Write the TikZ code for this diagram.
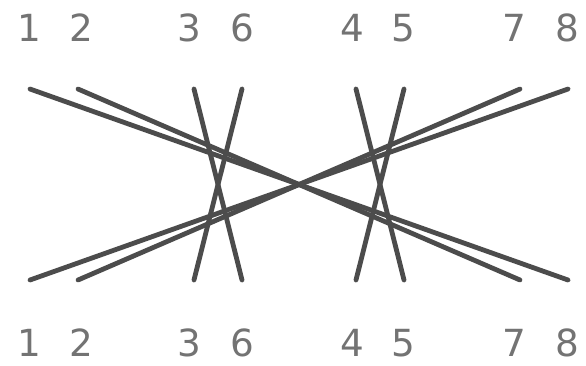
\documentclass[tikz,border=0pt]{standalone}
\usepackage{fontspec}
\setmainfont{DejaVu Sans}
\tikzset{wire/.style={line width=3.6pt,draw=black!70,line cap=round},
lab/.style={font=\fontsize{28}{30}\selectfont,text=black!55,inner sep=0pt,anchor=base}}
\begin{document}
\begin{tikzpicture}[x=1pt,y=-1pt,scale=0.75]
\useasboundingbox (0,0) rectangle (586,365);
\foreach \n/\x/\w/\l in {a/29/30/1,b/81/78/2,c/189/194/3,d/242/242/6,e/352/356/4,f/403/404/5,g/514/520/7,h/567/568/8}{
\node[lab] (t\n) at (\x,41) {\l};
\node[lab] (b\n) at (\x,356) {\l};
\coordinate (u\n) at (\w,89);
\coordinate (v\n) at (\w,280);
}
\foreach \p/\q in {a/h,b/g,c/d,d/c,e/f,f/e,g/b,h/a}{
\draw[wire] (u\p) -- (v\q);
}
\end{tikzpicture}
\end{document}
